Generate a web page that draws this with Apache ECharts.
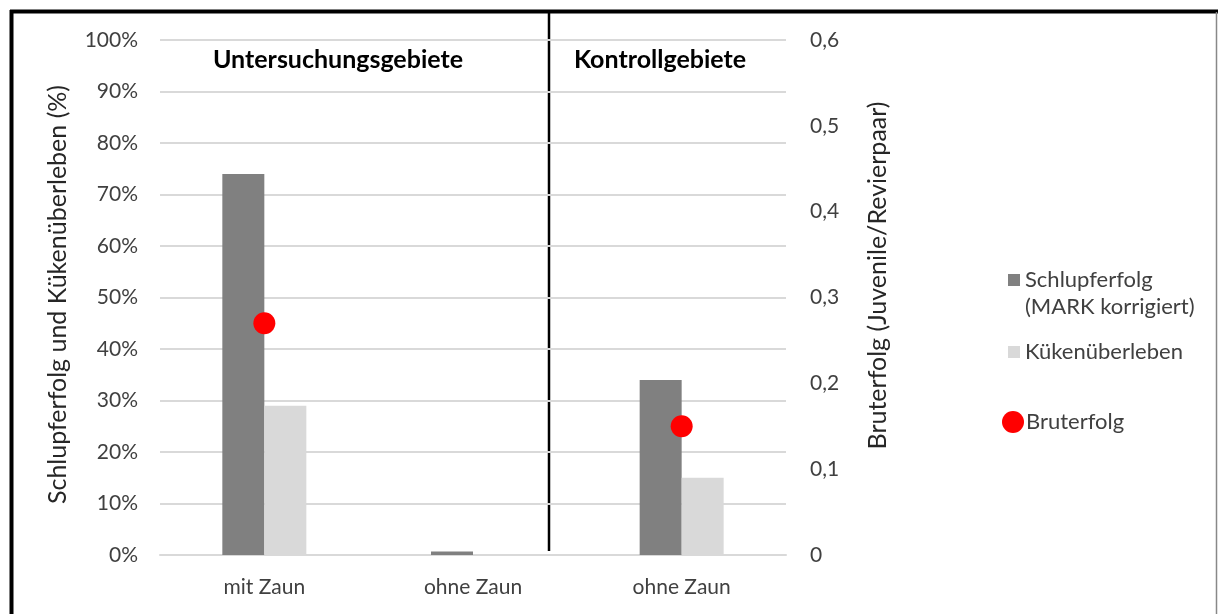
<!DOCTYPE html>
<html><head><meta charset="utf-8">
<script src="https://cdn.jsdelivr.net/npm/echarts@6/dist/echarts.min.js"></script>
<style>html,body{margin:0;padding:0;background:#fff}#c{width:1218px;height:614px}</style>
</head><body><div id="c"></div>
<script>
const categories = ['mit Zaun', 'ohne Zaun', 'ohne Zaun '];
const schlupferfolg = [74, 0.7, 34];
const kuekenueberleben = [29, null, 15];
const bruterfolg = [0.27, null, 0.15];
const leftTicks = [0, 10, 20, 30, 40, 50, 60, 70, 80, 90, 100];
const rightTicks = [0, 0.1, 0.2, 0.3, 0.4, 0.5, 0.6];
const groupLabels = ['Untersuchungsgebiete', 'Kontrollgebiete'];

const FONT = 'Lato';
const TXT = '#404040';
const chart = echarts.init(document.getElementById('c'), null, {renderer: 'canvas'});
chart.setOption({
  backgroundColor: '#fff',
  animation: false,
  grid: {left: 160, right: 432, top: 40, bottom: 59},
  xAxis: {
    type: 'category', data: categories,
    axisLine: {lineStyle: {color: '#d9d9d9', width: 2}},
    axisTick: {show: false},
    axisLabel: {color: TXT, fontFamily: FONT, fontSize: 21, margin: 22,
      formatter: v => v.trim()}
  },
  yAxis: [{
    type: 'value', min: 0, max: leftTicks[leftTicks.length-1], interval: 10,
    axisLabel: {color: TXT, fontFamily: FONT, fontSize: 21, margin: 22, formatter: v => v + '%'},
    splitLine: {lineStyle: {color: '#d9d9d9', width: 2}},
    axisLine: {show: false}, axisTick: {show: false},
    name: 'Schlupferfolg und Kükenüberleben (%)', nameLocation: 'middle', nameRotate: 90,
    nameGap: 90, nameTextStyle: {color: '#262626', fontFamily: FONT, fontSize: 25, padding: [0,0,0,6]}
  }, {
    type: 'value', min: 0, max: rightTicks[rightTicks.length-1], interval: 0.1,
    position: 'right',
    axisLabel: {color: TXT, fontFamily: FONT, fontSize: 21, margin: 24,
      formatter: v => v === 0 ? '0' : v.toFixed(1).replace('.', ',')},
    splitLine: {show: false}, axisLine: {show: false}, axisTick: {show: false},
    name: 'Bruterfolg (Juvenile/Revierpaar)', nameLocation: 'middle', nameRotate: 90,
    nameGap: 79, nameTextStyle: {color: '#262626', fontFamily: FONT, fontSize: 25, padding: [0,0,0,44]}
  }],
  legend: [{
    data: [{name: 'Schlupferfolg', icon: 'rect'}],
    left: 1003, top: 264, orient: 'vertical', itemWidth: 12, itemHeight: 12,
    textStyle: {color: TXT, fontFamily: FONT, fontSize: 22}
  }, {
    data: [{name: 'Kükenüberleben', icon: 'rect'}],
    left: 1003, top: 336, orient: 'vertical', itemWidth: 12, itemHeight: 12,
    textStyle: {color: TXT, fontFamily: FONT, fontSize: 22}
  }, {
    data: [{name: 'Bruterfolg', icon: 'circle'}],
    left: 997, top: 406, orient: 'vertical', itemWidth: 22, itemHeight: 22, itemGap: 0,
    textStyle: {color: TXT, fontFamily: FONT, fontSize: 22, padding: [0,0,0,-3]}
  }],
  series: [{
    name: 'Schlupferfolg', type: 'bar', data: schlupferfolg, barWidth: 42, barGap: '0%',
    itemStyle: {color: '#808080'}
  }, {
    name: 'Kükenüberleben', type: 'bar', data: kuekenueberleben, barWidth: 42, barGap: '0%',
    itemStyle: {color: '#d9d9d9'}
  }, {
    name: 'Bruterfolg', type: 'scatter', yAxisIndex: 1, data: bruterfolg, symbolSize: 22,
    itemStyle: {color: '#ff0000', opacity: 1}, z: 5
  }],
  graphic: [
    {type: 'line', shape: {x1: 10, y1: 11.5, x2: 1218, y2: 11.5}, style: {stroke: '#000', lineWidth: 4}},
    {type: 'line', shape: {x1: 11.5, y1: 10, x2: 11.5, y2: 614}, style: {stroke: '#000', lineWidth: 4}},
    {type: 'line', shape: {x1: 1216.5, y1: 12, x2: 1216.5, y2: 614}, style: {stroke: '#888', lineWidth: 1.5}},
    {type: 'line', shape: {x1: 549, y1: 12, x2: 549, y2: 551}, style: {stroke: '#000', lineWidth: 2.5}},
    {type: 'text', x: 1025, y: 307, style: {text: '(MARK korrigiert)', fill: TXT, font: '22px Lato', align: 'left', verticalAlign: 'middle'}},
    {type: 'text', x: 338, y: 60, style: {text: groupLabels[0], fill: '#000', font: 'bold 25px Lato', align: 'center', verticalAlign: 'middle'}},
    {type: 'text', x: 660, y: 60, style: {text: groupLabels[1], fill: '#000', font: 'bold 25px Lato', align: 'center', verticalAlign: 'middle'}}
  ]
});
</script></body></html>
